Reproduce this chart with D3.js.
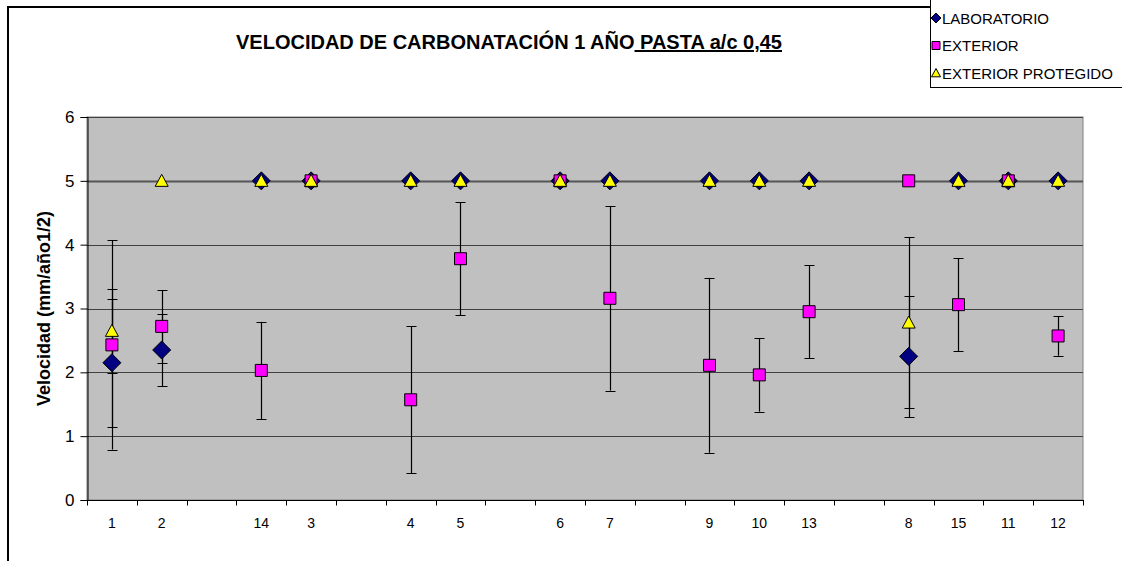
<!DOCTYPE html>
<html>
<head>
<meta charset="utf-8">
<script src="https://cdn.jsdelivr.net/npm/d3@7"></script>
<style>
  html, body { margin: 0; padding: 0; background: #fff; }
  svg { display: block; }
  text { font-family: "Liberation Sans", Arial, sans-serif; }
</style>
</head>
<body>
<svg id="chart" width="1122" height="561"></svg>
<script>
// Category labels along the x axis ("" = empty gap slot)
const categories = ["1","2","","14","3","","4","5","","6","7","","9","10","13","","8","15","11","12"];

// Carbonation rate per specimen (mm/año^1/2) and error bar half-widths
const laboratorio      = [2.15, 2.35, null, 5, 5, null, 5, 5, null, 5, 5, null, 5, 5, 5, null, 2.25, 5, 5, 5];
const laboratorioErr   = [1.00, 0.57, null, 0, 0, null, 0, 0, null, 0, 0, null, 0, 0, 0, null, 0.95, 0, 0, 0];
const exterior         = [2.43, 2.72, null, 2.03, 5, null, 1.57, 3.78, null, 5, 3.16, null, 2.11, 1.96, 2.95, null, 5, 3.06, 5, 2.57];
const exteriorErr      = [1.64, 0.57, null, 0.76, 0, null, 1.15, 0.885, null, 0, 1.445, null, 1.37, 0.575, 0.73, null, 0, 0.725, 0, 0.31];
const protegido        = [2.65, 5, null, 5, 5, null, 5, 5, null, 5, 5, null, 5, 5, 5, null, 2.78, 5, 5, 5];
const protegidoErr     = [0.66, 0, null, 0, 0, null, 0, 0, null, 0, 0, null, 0, 0, 0, null, 1.335, 0, 0, 0];

const yTicks = [0, 1, 2, 3, 4, 5, 6];
const seriesNames = ["LABORATORIO", "EXTERIOR", "EXTERIOR PROTEGIDO"];

const svg = d3.select("#chart");
const W = 1122, H = 561;
const plot = { left: 87, right: 1083, top: 117, bottom: 500 };

// Chart-area frame with a slight shadow
svg.append("rect").attr("x", 8.5).attr("y", 7.5).attr("width", W).attr("height", H)
  .attr("fill", "none").attr("stroke", "#000").attr("stroke-width", 1);
svg.append("rect").attr("x", 7.5).attr("y", 6.5).attr("width", W).attr("height", H)
  .attr("fill", "none").attr("stroke", "#000").attr("stroke-width", 1);

const x = d3.scaleBand().domain(d3.range(categories.length))
  .range([plot.left, plot.right]).paddingInner(0).paddingOuter(0);
const y = d3.scaleLinear().domain([0, 6]).range([plot.bottom, plot.top]);

// Plot background
svg.append("rect")
  .attr("x", plot.left).attr("y", plot.top)
  .attr("width", plot.right - plot.left).attr("height", plot.bottom - plot.top)
  .attr("fill", "#C0C0C0").attr("stroke", "#808080").attr("stroke-width", 1);

// Horizontal gridlines
svg.append("g").selectAll("line").data(yTicks.filter(v => v > 0)).join("line")
  .attr("x1", plot.left).attr("x2", plot.right)
  .attr("y1", d => Math.round(y(d)) + 0.5).attr("y2", d => Math.round(y(d)) + 0.5)
  .attr("stroke", d => d === 5 ? "#555" : "#404040")
  .attr("stroke-width", d => d === 5 ? 2 : 1);

// Y axis
const yAxis = d3.axisLeft(y).tickValues(yTicks).tickSize(7).tickPadding(6).tickFormat(d3.format("d"));
const gy = svg.append("g").attr("transform", `translate(${plot.left + 0.5},0)`).call(yAxis);
gy.select(".domain").attr("stroke", "#000");
gy.selectAll(".tick line").attr("stroke", "#000");
gy.selectAll(".tick text").attr("font-size", 17).attr("fill", "#000")
  .style("font-family", "'Liberation Sans', Arial, sans-serif");

// X axis: ticks fall on category boundaries, labels centered in each slot
const gx = svg.append("g").attr("transform", `translate(0,${plot.bottom + 0.5})`);
gx.append("line").attr("x1", plot.left).attr("x2", plot.right + 1)
  .attr("stroke", "#000");
const bounds = d3.range(categories.length + 1).map(i => plot.left + i * x.bandwidth());
gx.selectAll("line.tk").data(bounds).join("line").attr("class", "tk")
  .attr("x1", d => Math.round(d) + 0.5).attr("x2", d => Math.round(d) + 0.5)
  .attr("y1", 0).attr("y2", 5).attr("stroke", "#000");
gx.selectAll("text").data(categories).join("text")
  .attr("x", (d, i) => x(i) + x.bandwidth() / 2)
  .attr("y", 27)
  .attr("text-anchor", "middle")
  .attr("font-size", 14)
  .attr("fill", "#000")
  .text(d => d);

// Title
const title = svg.append("text")
  .attr("x", 509).attr("y", 49)
  .attr("text-anchor", "middle")
  .attr("font-size", 20).attr("font-weight", "bold").attr("fill", "#000");
title.append("tspan").text("VELOCIDAD DE CARBONATACIÓN 1 AÑO");
title.append("tspan").attr("text-decoration", "underline").style("text-decoration", "underline")
  .text(" PASTA a/c 0,45");

// Y axis title
svg.append("text")
  .attr("transform", `translate(50,${(plot.top + plot.bottom) / 2}) rotate(-90)`)
  .attr("text-anchor", "middle")
  .attr("font-size", 18).attr("font-weight", "bold").attr("fill", "#000")
  .text("Velocidad (mm/año1/2)");

// Marker shapes
const shapes = [
  { vals: laboratorio, errs: laboratorioErr, fill: "#000080", type: "diamond", size: 9 },
  { vals: exterior,    errs: exteriorErr,    fill: "#FF00FF", type: "square",  size: 6 },
  { vals: protegido,   errs: protegidoErr,   fill: "#FFFF00", type: "triangle", size: 6.5 }
];
function markerPath(type, s) {
  if (type === "diamond") return `M0,${-s}L${s},0L0,${s}L${-s},0Z`;
  if (type === "square") return `M${-s},${-s}H${s}V${s}H${-s}Z`;
  return `M0,${-s}L${s},${s * 0.85}L${-s},${s * 0.85}Z`;
}

// Error bars first so markers sit on top
const errLayer = svg.append("g");
shapes.forEach(sh => {
  const pts = sh.vals.map((v, i) => ({ i, v, e: sh.errs[i] })).filter(p => p.v != null && p.e > 0);
  const g = errLayer.selectAll(null).data(pts).join("g")
    .attr("transform", p => `translate(${Math.round(x(p.i) + x.bandwidth() / 2) + 0.5},0)`);
  g.append("line").attr("y1", p => y(p.v + p.e)).attr("y2", p => y(p.v - p.e))
    .attr("stroke", "#000").attr("stroke-width", 1.2);
  g.append("line").attr("x1", -5).attr("x2", 5)
    .attr("y1", p => Math.round(y(p.v + p.e)) + 0.5).attr("y2", p => Math.round(y(p.v + p.e)) + 0.5)
    .attr("stroke", "#000");
  g.append("line").attr("x1", -5).attr("x2", 5)
    .attr("y1", p => Math.round(y(p.v - p.e)) + 0.5).attr("y2", p => Math.round(y(p.v - p.e)) + 0.5)
    .attr("stroke", "#000");
});

const markLayer = svg.append("g");
shapes.forEach(sh => {
  const pts = sh.vals.map((v, i) => ({ i, v })).filter(p => p.v != null);
  markLayer.selectAll(null).data(pts).join("path")
    .attr("transform", p => `translate(${x(p.i) + x.bandwidth() / 2},${y(p.v)})`)
    .attr("d", markerPath(sh.type, sh.size))
    .attr("fill", sh.fill).attr("stroke", "#000").attr("stroke-width", 1);
});

// Legend
const lg = svg.append("g");
lg.append("rect").attr("x", 930.5).attr("y", -1).attr("width", 200).attr("height", 88.5)
  .attr("fill", "#fff").attr("stroke", "#000");
const legendSizes = [5, 4, 4.5];
seriesNames.forEach((name, k) => {
  const cy = 18 + k * 27.5;
  lg.append("path").attr("transform", `translate(936,${cy})`)
    .attr("d", markerPath(shapes[k].type, legendSizes[k]))
    .attr("fill", shapes[k].fill).attr("stroke", "#000");
  lg.append("text").attr("x", 942).attr("y", cy + 5.5)
    .attr("font-size", 15).attr("fill", "#000").text(name);
});
</script>
</body>
</html>
